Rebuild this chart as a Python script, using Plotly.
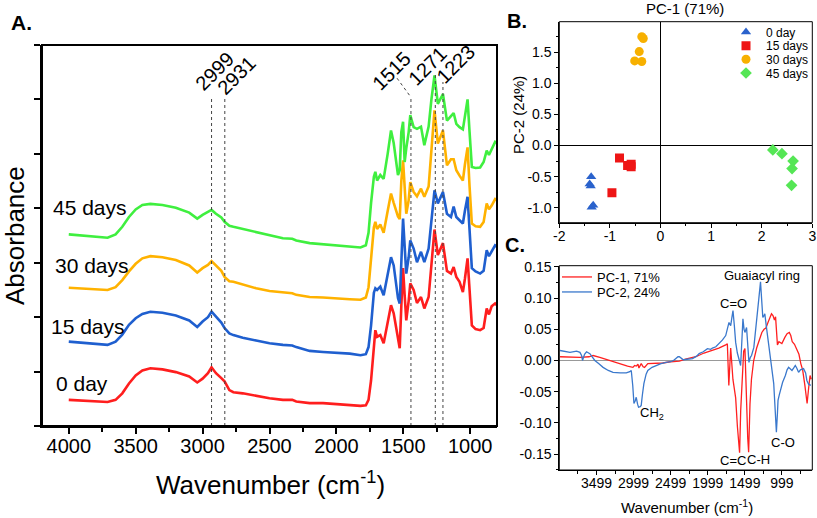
import plotly.graph_objects as go

W, H = 817, 518
FONT = "Liberation Sans, Arial, sans-serif"

# ---------------- Panel A data: FTIR spectra ----------------
wn = [4000, 3900, 3800, 3710, 3650, 3600, 3550, 3500, 3450, 3390, 3300, 3200, 3100, 3040, 3000,
      2960, 2933, 2900, 2860, 2836, 2800, 2770, 2700, 2600, 2500, 2400, 2330, 2300, 2200, 2100,
      2000, 1900, 1820, 1780, 1760, 1741, 1720, 1709, 1696, 1672, 1647, 1617, 1592, 1572, 1540,
      1527, 1515, 1502, 1490, 1478, 1460, 1448, 1423, 1398, 1368, 1343, 1311, 1290, 1267, 1242,
      1204, 1174, 1144, 1124, 1104, 1080, 1055, 1040, 1020, 1005, 988, 960, 926, 900, 877,
      860, 840, 814, 800]

abs_0day = [0.48, 0.47, 0.46, 0.44, 0.48, 0.60, 0.78, 0.93, 1.02, 1.06, 1.04, 0.99, 0.91, 0.80, 0.87,
            0.97, 1.08, 0.97, 0.88, 0.82, 0.66, 0.62, 0.60, 0.55, 0.51, 0.48, 0.48, 0.45, 0.42, 0.42,
            0.40, 0.38, 0.37, 0.38, 0.48, 0.84, 1.55, 1.76, 1.64, 1.67, 1.52, 1.94, 2.22, 2.07, 1.55,
            1.43, 2.20, 2.90, 2.40, 1.94, 2.30, 2.62, 2.50, 2.26, 2.37, 2.16, 2.37, 2.90, 3.61, 3.14,
            3.36, 2.85, 2.80, 2.92, 2.74, 2.65, 2.46, 2.70, 3.08, 2.50, 1.85, 1.78, 1.76, 1.80, 2.16,
            2.05, 2.20, 2.25, 2.22]

abs_15days = [1.55, 1.53, 1.51, 1.49, 1.55, 1.68, 1.86, 1.98, 2.06, 2.10, 2.08, 2.03, 1.94, 1.82, 1.92,
              2.00, 2.10, 2.00, 1.90, 1.80, 1.70, 1.67, 1.62, 1.57, 1.52, 1.49, 1.48, 1.45, 1.38, 1.36,
              1.35, 1.33, 1.30, 1.32, 1.45, 1.85, 2.45, 2.53, 2.50, 2.56, 2.40, 2.80, 3.10, 2.95, 2.35,
              2.25, 3.20, 3.81, 3.30, 2.80, 3.10, 3.41, 3.26, 3.01, 3.20, 3.01, 3.26, 3.80, 4.33, 4.09,
              4.30, 3.90, 3.84, 4.03, 3.84, 3.78, 3.72, 3.95, 4.21, 3.60, 2.90, 2.84, 2.80, 2.85, 3.23,
              3.12, 3.20, 3.32, 3.30]

abs_30days = [2.54, 2.53, 2.52, 2.50, 2.55, 2.68, 2.84, 2.98, 3.08, 3.12, 3.10, 3.05, 2.95, 2.82, 2.90,
              2.96, 3.03, 2.94, 2.85, 2.74, 2.66, 2.65, 2.60, 2.53, 2.48, 2.45, 2.44, 2.41, 2.37, 2.36,
              2.34, 2.33, 2.32, 2.36, 2.55, 3.10, 3.65, 3.75, 3.62, 3.70, 3.55, 3.95, 4.27, 4.10, 3.85,
              3.80, 4.50, 4.88, 4.40, 3.90, 4.15, 4.48, 4.30, 4.22, 4.36, 4.21, 4.40, 5.10, 5.80, 5.19,
              5.43, 4.79, 4.90, 4.90, 4.70, 4.60, 4.51, 4.80, 5.12, 4.40, 3.72, 3.67, 3.66, 3.75, 4.09,
              3.98, 4.05, 4.17, 4.15]

abs_45days = [3.52, 3.50, 3.48, 3.46, 3.52, 3.66, 3.84, 3.98, 4.06, 4.08, 4.06, 4.01, 3.92, 3.81, 3.88,
              3.93, 3.97, 3.90, 3.83, 3.75, 3.68, 3.66, 3.62, 3.56, 3.50, 3.45, 3.44, 3.41, 3.36, 3.34,
              3.32, 3.30, 3.28, 3.32, 3.55, 4.10, 4.58, 4.67, 4.51, 4.61, 4.54, 5.00, 5.43, 5.20, 4.61,
              4.70, 5.40, 5.59, 4.85, 5.10, 5.40, 5.71, 5.49, 5.46, 5.50, 5.16, 5.50, 6.00, 6.44, 5.92,
              6.10, 5.61, 5.70, 5.75, 5.55, 5.49, 5.45, 5.70, 6.00, 5.40, 4.76, 4.74, 4.75, 4.85, 5.06,
              4.98, 5.10, 5.22, 5.20]

spectra_names = ["0 day", "15 days", "30 days", "45 days"]
spectra_colors = ["#ff1e1e", "#1f5fcf", "#ffb200", "#3fef3f"]

# marker lines (position in wavenumber, top of line) and their labels
peak_line_wn = [2933, 2834, 1443, 1261, 1204]
peak_line_top = [6.04, 6.04, 6.04, 6.50, 6.32]
peak_labels = ["2999", "2931", "1515", "1271", "1223"]
peak_label_wn = [2910, 2745, 1590, 1320, 1110]
peak_label_y = [6.53, 6.45, 6.53, 6.62, 6.66]

# curve labels in panel A
label_wn = [4112, 4149, 4119, 4134]
label_y = [0.79, 1.82, 2.94, 4.02]

# ---------------- Panel B data: PCA scores ----------------
pca_groups = ["0 day", "15 days", "30 days", "45 days"]
pc1_0 = [-1.37, -1.40, -1.38, -1.33, -1.36]
pc2_0 = [-0.50, -0.62, -0.65, -0.96, -0.99]
pc1_15 = [-0.81, -0.65, -0.58, -0.58, -0.96]
pc2_15 = [-0.20, -0.32, -0.30, -0.34, -0.76]
pc1_30 = [-0.37, -0.34, -0.42, -0.51, -0.37]
pc2_30 = [1.75, 1.72, 1.51, 1.36, 1.35]
pc1_45 = [2.22, 2.40, 2.62, 2.60, 2.59]
pc2_45 = [-0.07, -0.13, -0.25, -0.37, -0.64]
pca_symbols = ["triangle-up", "square", "circle", "diamond"]
pca_colors = ["#2a62cc", "#ee1515", "#f7b000", "#55e655"]

# ---------------- Panel C data: PCA loadings ----------------
load1_wn = [3990, 3850, 3722, 3600, 3544, 3454, 3300, 3186, 3080, 3008, 2985, 2963, 2940, 2927, 2910,
            2896, 2870, 2851, 2807, 2700, 2606, 2500, 2382, 2300, 2159, 2050, 1936, 1850, 1757, 1735,
            1715, 1705, 1690, 1660, 1623, 1600, 1570, 1555, 1533, 1515, 1498, 1480, 1460, 1448, 1430,
            1410, 1380, 1340, 1300, 1270, 1240, 1215, 1190, 1160, 1140, 1120, 1100, 1085, 1060, 1040,
            1000, 960, 930, 900, 880, 860, 830, 800, 770, 745, 720, 690, 660, 640, 620, 605]
load1_val = [0.006, 0.005, 0.005, 0.006, 0.008, 0.005, -0.001, -0.005, -0.009, -0.011, -0.008, -0.009,
             -0.006, -0.012, -0.007, -0.005, -0.010, -0.011, -0.005, -0.005, -0.004, -0.002, -0.001,
             0.002, 0.006, 0.012, 0.016, 0.020, 0.025, 0.027, -0.040, -0.005, 0.020, -0.030, -0.060,
             -0.105, -0.148, -0.080, -0.014, 0.015, 0.019, -0.060, -0.125, -0.147, -0.070, -0.030,
             0.000, 0.020, 0.035, 0.045, 0.050, 0.052, 0.060, 0.068, 0.075, 0.072, 0.065, 0.070,
             0.025, 0.030, 0.027, 0.037, 0.043, 0.045, 0.040, 0.030, 0.026, 0.018, 0.010, -0.005,
             -0.015, -0.040, -0.069, -0.045, -0.024, -0.030]

load2_wn = [3990, 3856, 3767, 3722, 3700, 3687, 3660, 3633, 3588, 3555, 3521, 3470, 3410, 3340, 3276,
            3180, 3097, 3050, 3030, 3010, 2994, 2978, 2963, 2945, 2932, 2910, 2896, 2880, 2860, 2830,
            2807, 2750, 2695, 2630, 2561, 2500, 2460, 2427, 2400, 2382, 2360, 2329, 2280, 2204, 2150,
            2115, 2060, 2003, 1960, 1936, 1890, 1847, 1800, 1757, 1735, 1713, 1700, 1690, 1675, 1659,
            1640, 1623, 1600, 1578, 1556, 1540, 1525, 1510, 1498, 1476, 1460, 1444, 1425, 1409, 1378,
            1360, 1333, 1310, 1288, 1270, 1257, 1240, 1230, 1210, 1186, 1160, 1141, 1125, 1110, 1090,
            1074, 1060, 1052, 1035, 1020, 990, 953, 930, 909, 890, 864, 840, 819, 800, 775, 750, 708,
            680, 663, 640, 610]
load2_val = [0.016, 0.013, 0.015, 0.013, 0.008, 0.000, 0.010, 0.014, 0.011, 0.005, 0.000, -0.005, -0.011,
             -0.016, -0.019, -0.020, -0.020, -0.018, -0.016, -0.040, -0.069, -0.065, -0.059, -0.070,
             -0.075, -0.074, -0.072, -0.055, -0.037, -0.022, -0.016, -0.011, -0.008, -0.005, -0.003,
             -0.002, 0.000, 0.004, 0.006, 0.006, 0.004, 0.001, 0.002, 0.003, 0.007, 0.011, 0.014, 0.019,
             0.018, 0.020, 0.022, 0.027, 0.033, 0.040, 0.052, 0.061, 0.058, 0.056, 0.068, 0.080, 0.055,
             0.029, 0.012, 0.000, -0.008, 0.030, 0.067, 0.050, 0.045, 0.053, 0.020, -0.003, 0.005, 0.008,
             0.021, 0.045, 0.069, 0.100, 0.126, 0.095, 0.069, 0.072, 0.075, 0.055, 0.032, 0.010, -0.005,
             -0.020, -0.037, -0.080, -0.115, -0.085, -0.064, -0.055, -0.048, -0.035, -0.024, -0.015,
             -0.011, -0.013, -0.016, -0.012, -0.008, -0.012, -0.019, -0.015, -0.013, -0.020, -0.032,
             -0.038, -0.040]
load_names = ["PC-1, 71%", "PC-2, 24%"]
load_colors = ["#ff2020", "#3a78cc"]

# band assignments in panel C
band_text = ["Guaiacyl ring", "C=O", "CH<sub>2</sub>", "C=C", "C-H", "C-O"]
band_wn = [1271, 1646, 2745, 1659, 1310, 988]
band_val = [0.136, 0.091, -0.085, -0.161, -0.159, -0.131]


def px(x):
    return x / W


def py(y):
    return 1 - y / H


fig = go.Figure()

# Panel A
for vals, name, col in zip([abs_0day, abs_15days, abs_30days, abs_45days], spectra_names, spectra_colors):
    fig.add_trace(go.Scatter(x=wn, y=vals, mode="lines", line=dict(color=col, width=2.6),
                             showlegend=False, xaxis="x", yaxis="y", name=name))

# Panel B (one legend box per entry so the rows can sit close together)
legB_ids = ["legend", "legend3", "legend4", "legend5"]
legB_rows = [32, 45.7, 59.3, 73]
for xs, ys, name, sym, col, lid in zip([pc1_0, pc1_15, pc1_30, pc1_45], [pc2_0, pc2_15, pc2_30, pc2_45],
                                       pca_groups, pca_symbols, pca_colors, legB_ids):
    fig.add_trace(go.Scatter(x=xs, y=ys, mode="markers", name=name,
                             marker=dict(symbol=sym, color=col, size=9, line=dict(width=0)),
                             xaxis="x2", yaxis="y2", legend=lid))

# Panel C
legC_ids = ["legend2", "legend6"]
legC_rows = [277, 292]
for xs, ys, name, col, lid in zip([load1_wn, load2_wn], [load1_val, load2_val], load_names, load_colors,
                                  legC_ids):
    fig.add_trace(go.Scatter(x=xs, y=ys, mode="lines", name=name, line=dict(color=col, width=1.3),
                             xaxis="x3", yaxis="y3", legend=lid))

shapes = []
for xw, top in zip(peak_line_wn, peak_line_top):
    shapes.append(dict(type="line", xref="x", yref="y", x0=xw, x1=xw, y0=0, y1=top,
                       line=dict(color="#444", width=1, dash="dot")))
# leader from 1515 label to its line
shapes.append(dict(type="line", xref="x", yref="y", x0=1547, x1=peak_line_wn[2], y0=6.39, y1=peak_line_top[2],
                   line=dict(color="#444", width=1, dash="dot")))
# frames around the three panels
for xr, yr, lw in [("x", "y", 2), ("x2", "y2", 1), ("x3", "y3", 1)]:
    shapes.append(dict(type="rect", xref=xr + " domain", yref=yr + " domain", x0=0, x1=1, y0=0, y1=1,
                       line=dict(color="black", width=lw), fillcolor="rgba(0,0,0,0)", layer="above"))

annotations = []
for t, xw, yv in zip(peak_labels, peak_label_wn, peak_label_y):
    annotations.append(dict(text=t, x=xw, y=yv, xref="x", yref="y", showarrow=False, textangle=-45,
                            xanchor="center", yanchor="middle",
                            font=dict(size=20, family=FONT, color="black")))
for t, xw, yv in zip(spectra_names, label_wn, label_y):
    annotations.append(dict(text=t, x=xw, y=yv, xref="x", yref="y", showarrow=False, xanchor="left",
                            yanchor="middle", font=dict(size=21, family=FONT, color="black")))
for t, xw, yv in zip(band_text, band_wn, band_val):
    annotations.append(dict(text=t, x=xw, y=yv, xref="x3", yref="y3", showarrow=False,
                            xanchor="center", yanchor="middle",
                            font=dict(size=13, family=FONT, color="black")))

# panel letters and axis titles
paper_notes = [
    dict(text="<b>A.</b>", x=px(21), y=py(22), font=dict(size=21)),
    dict(text="<b>B.</b>", x=px(517), y=py(21), font=dict(size=20)),
    dict(text="<b>C.</b>", x=px(515), y=py(245), font=dict(size=20)),
    dict(text="Absorbance", x=px(15), y=py(236), textangle=-90, font=dict(size=26)),
    dict(text="Wavenumber (cm<sup>-1</sup>)", x=px(270), y=py(483), font=dict(size=26)),
    dict(text="PC-1 (71%)", x=px(685), y=py(9), font=dict(size=15)),
    dict(text="PC-2 (24%)", x=px(518), y=py(115), textangle=-90, font=dict(size=15)),
    dict(text="Wavenumber (cm<sup>-1</sup>)", x=px(687), y=py(506), font=dict(size=15)),
]
for a in paper_notes:
    a.update(xref="paper", yref="paper", showarrow=False, xanchor="center", yanchor="middle")
    a["font"].update(family=FONT, color="black")
annotations += paper_notes

axA = dict(showline=True, linecolor="black", linewidth=2, ticks="outside",
           tickcolor="black", tickwidth=1.5, ticklen=6, showgrid=False, zeroline=False, automargin=False)
axS = dict(showline=True, linecolor="black", linewidth=1, ticks="outside",
           tickcolor="black", tickwidth=1, ticklen=4, showgrid=False, automargin=False,
           tickfont=dict(size=14, family=FONT, color="black"))

x1_ticks = [4000, 3500, 3000, 2500, 2000, 1500, 1000]
y2_ticks = [-1.0, -0.5, 0.0, 0.5, 1.0, 1.5]
y3_ticks = [-0.15, -0.10, -0.05, 0.00, 0.05, 0.10, 0.15]
x3_ticks = [3499, 2999, 2499, 1999, 1499, 999]

legend_common = dict(xanchor="left", yanchor="middle", bgcolor="rgba(0,0,0,0)", tracegroupgap=0,
                     itemwidth=30, borderwidth=0)
legends = {}
for lid, row in zip(legB_ids, legB_rows):
    legends[lid] = dict(legend_common, x=px(726), y=py(row), font=dict(size=12, family=FONT, color="black"))
for lid, row in zip(legC_ids, legC_rows):
    legends[lid] = dict(legend_common, x=px(557), y=py(row), font=dict(size=13, family=FONT, color="black"))

fig.update_layout(
    width=W, height=H, margin=dict(l=0, r=0, t=0, b=0),
    paper_bgcolor="white", plot_bgcolor="white",
    font=dict(family=FONT, color="black"),
    xaxis=dict(axA, domain=[px(42), px(497)], range=[4200, 800], anchor="y",
               tickvals=x1_ticks, ticktext=[str(v) for v in x1_ticks], ticklabelstandoff=-5,
               tickfont=dict(size=20, family=FONT, color="black"),
               minor=dict(tickvals=[3750, 3250, 2750, 2250, 1750, 1250],
                          ticks="outside", ticklen=4, tickcolor="black", tickwidth=1.5)),
    yaxis=dict(axA, domain=[py(426), py(45)], range=[0, 7], anchor="x", tickvals=list(range(8)),
               showticklabels=False),
    xaxis2=dict(axS, domain=[px(559.3), px(812.3)], range=[-2, 3], anchor="y2",
                tickvals=[-2, -1, 0, 1, 2, 3], ticktext=["-2", "-1", "0", "1", "2", "3"],
                ticklabelstandoff=-4,
                zeroline=True, zerolinecolor="black", zerolinewidth=1,
                minor=dict(tickvals=[-1.5, -0.5, 0.5, 1.5, 2.5], ticks="outside", ticklen=2.5,
                           tickcolor="black", tickwidth=1)),
    yaxis2=dict(axS, domain=[py(222.7), py(21.7)], range=[-1.24, 1.99], anchor="x2",
                tickvals=y2_ticks, ticktext=["%.1f" % v for v in y2_ticks],
                zeroline=True, zerolinecolor="black", zerolinewidth=1,
                minor=dict(tickvals=[-1.25, -0.75, -0.25, 0.25, 0.75, 1.25, 1.75], ticks="outside",
                           ticklen=2.5, tickcolor="black", tickwidth=1)),
    xaxis3=dict(axS, domain=[px(559.3), px(812.3)], range=[4000, 590], anchor="y3",
                tickvals=x3_ticks, ticktext=[str(v) for v in x3_ticks], zeroline=False,
                ticklabelstandoff=-4,
                minor=dict(tickvals=[3749, 3249, 2749, 2249, 1749, 1249, 749], ticks="outside",
                           ticklen=2.5, tickcolor="black", tickwidth=1)),
    yaxis3=dict(axS, domain=[py(470), py(265.7)], range=[-0.1756, 0.152], anchor="x3",
                tickvals=y3_ticks, ticktext=["%.2f" % v for v in y3_ticks],
                zeroline=True, zerolinecolor="#999999", zerolinewidth=1,
                minor=dict(tickvals=[-0.175, -0.125, -0.075, -0.025, 0.025, 0.075, 0.125], ticks="outside",
                           ticklen=2.5, tickcolor="black", tickwidth=1)),
    shapes=shapes, annotations=annotations,
    **legends,
)

fig.write_html("out.html", config={"displayModeBar": False},
               post_script="document.body.style.margin='0px';")
